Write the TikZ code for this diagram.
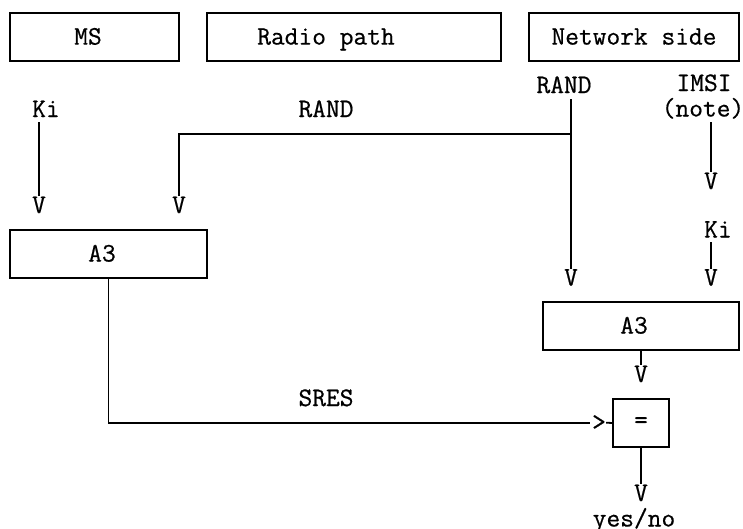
\documentclass[tikz,border=0pt]{standalone}
\usepackage{fontspec}
\newfontfamily\asciifam{Latin Modern Mono}[FakeBold=0.6]
\newcommand\asciifont{\asciifam\fontsize{26.7}{30}\selectfont}
\begin{document}
\begin{tikzpicture}[x=1pt,y=-1pt,
  lbl/.style={font=\asciifont, inner sep=0pt, anchor=base},
  sym/.style={font=\asciifont, inner sep=0pt, anchor=center},
  box/.style={draw, line width=1.8pt, inner sep=0pt, outer sep=0pt, anchor=north west},
  conn/.style={line width=1.8pt}]
\useasboundingbox (0,0) rectangle (743,528);
% header boxes
\node[box, minimum width=169pt, minimum height=48pt] (ms) at (10,13) {};
\node[box, minimum width=294pt, minimum height=48pt] (radio) at (207,13) {};
\node[box, minimum width=210pt, minimum height=48pt] (net) at (529,13) {};
\node[lbl] (msT) at (88,44.6) {MS};
\node[lbl] (radioT) at (326,44.6) {Radio path};
\node[lbl] (netT) at (634,44.6) {Network side};
% inputs
\node[lbl] (kiL) at (46,117) {Ki};
\node[lbl] (randM) at (326,117) {RAND};
\node[lbl] (randR) at (564,93) {RAND};
\node[lbl] (imsi) at (704,91) {IMSI};
\node[lbl] (note) at (703,116.5) {(note)};
\node[lbl] (kiR) at (718,237.5) {Ki};
% arrow heads (V)
\node[lbl] (vA) at (39,213) {V};
\node[lbl] (vB) at (179,213) {V};
\node[lbl] (vD) at (711,189) {V};
\node[lbl] (vC) at (571,285.5) {V};
\node[lbl] (vE) at (711,285.5) {V};
\node[lbl] (vF) at (641,382) {V};
\node[lbl] (vG) at (641,501) {V};
% A3 boxes
\node[box, minimum width=197pt, minimum height=48pt] (a3L) at (10,230) {};
\node[lbl] (a3LT) at (102,261.5) {A3};
\node[box, minimum width=196pt, minimum height=48pt] (a3R) at (543,302) {};
\node[lbl] (a3RT) at (634,333.5) {A3};
% compare box
\node[box, minimum width=56pt, minimum height=48pt] (eq) at (613,399) {};
\node[sym] (eqT) at (641,422.7) {=};
\node[sym] (gt) at (599,422.7) {>};
\node[lbl] (sres) at (326,406) {SRES};
\node[lbl] (yesno) at (634,526.5) {yes/no};
% connector start points
\coordinate (kiLs) at (39,122);
\coordinate (randRs) at (571,99);
\coordinate (randJ) at (571,134);
\coordinate (imsiS) at (711,122);
\coordinate (kiRs) at (711,242);
% connectors
\draw[conn] (kiLs) -- (vA.north);
\draw[conn] (randRs) -- (vC.north);
\draw[conn] (randJ) -| (vB.north);
\draw[conn] (imsiS) -- (vD.north);
\draw[conn] (kiRs) -- (vE.north);
\draw[conn] (a3R.south) -- (vF.north);
\draw[conn] (eq.south) -- (vG.north);
\draw[conn] (a3L.south) |- ([xshift=-2pt]gt.west);
\draw[conn] (gt.east) -- (eq.west);
\end{tikzpicture}
\end{document}
